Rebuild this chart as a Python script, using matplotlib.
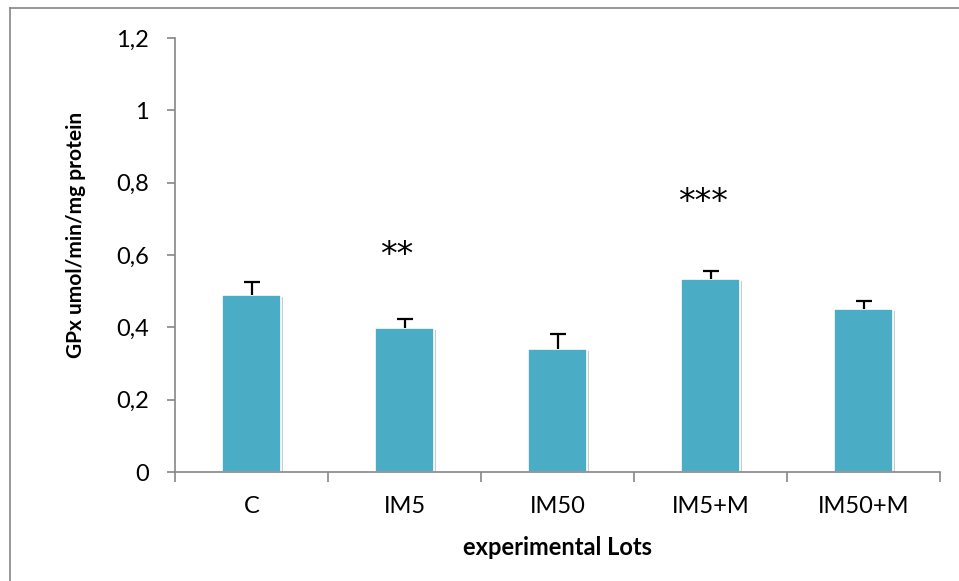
import matplotlib.pyplot as plt
import matplotlib.patheffects as pe
from matplotlib.lines import Line2D
from matplotlib.ticker import FuncFormatter

# données
lots = ['C', 'IM5', 'IM50', 'IM5+M', 'IM50+M']
gpx = [0.489, 0.399, 0.340, 0.533, 0.450]
err = [0.037, 0.023, 0.041, 0.023, 0.023]
stars = ['', '**', '', '***', '']
star_y = [0, 0.60, 0, 0.745, 0]

plt.rcParams['font.family'] = ['Lato', 'DejaVu Sans']

fig = plt.figure(figsize=(9.59, 5.81), dpi=100)
ax = fig.add_axes([0.1825, 0.1876, 0.7977, 0.747])

x = list(range(len(lots)))
bars = ax.bar(x, gpx, width=0.39, color='#4BACC6', edgecolor='white', linewidth=1.2, zorder=2)
for b in bars:
    b.set_path_effects([pe.SimplePatchShadow(offset=(1.5, -1.5), shadow_rgbFace='#999999', alpha=0.5),
                        pe.Normal()])

# barres d'erreur vers le haut uniquement (pas de trait en bas)
tops = [g + e for g, e in zip(gpx, err)]
ax.vlines(x, gpx, tops, color='black', linewidth=1.6, zorder=3)
ax.plot(x, tops, linestyle='none', marker='_', markersize=11, markeredgewidth=1.6,
        color='black', zorder=3)

for i, s in enumerate(stars):
    if s:
        ax.text(i - 0.05, star_y[i], s, ha='center', va='center', fontsize=24,
                family='DejaVu Sans')

ax.set_xlim(-0.5, len(lots) - 0.5)
ax.set_ylim(0, 1.2)
ax.set_yticks([0, 0.2, 0.4, 0.6, 0.8, 1.0, 1.2])
ax.yaxis.set_major_formatter(FuncFormatter(lambda v, p: ('%g' % round(v, 1)).replace('.', ',')))

ax.set_xticks([i + 0.5 for i in range(-1, len(lots))])
ax.set_xticklabels([])
ax.set_xticks(x, minor=True)
ax.set_xticklabels(lots, minor=True)
ax.tick_params(axis='x', which='minor', length=0, pad=17, labelsize=17)
ax.tick_params(axis='x', which='major', length=7, color='#868686', width=1.2)
ax.tick_params(axis='y', length=6, color='#868686', width=1.2, labelsize=17, pad=13)

for side in ['top', 'right']:
    ax.spines[side].set_visible(False)
for side in ['left', 'bottom']:
    ax.spines[side].set_color('#868686')
    ax.spines[side].set_linewidth(1.2)

ax.set_ylabel('GPx umol/min/mg protein', fontsize=15, fontweight='bold')
ax.yaxis.set_label_coords(-0.117, 0.546)
ax.set_xlabel('experimental Lots', fontsize=17, fontweight='bold', labelpad=14)

# cadre de la figure (haut et gauche seulement)
fig.add_artist(Line2D([0.0100, 1.0], [1 - 8 / 581, 1 - 8 / 581], transform=fig.transFigure,
                      color='#868686', linewidth=1.2))
fig.add_artist(Line2D([0.0100, 0.0100], [0, 1 - 8 / 581], transform=fig.transFigure,
                      color='#868686', linewidth=1.2))

plt.savefig('out.png', dpi=100)
plt.close()
